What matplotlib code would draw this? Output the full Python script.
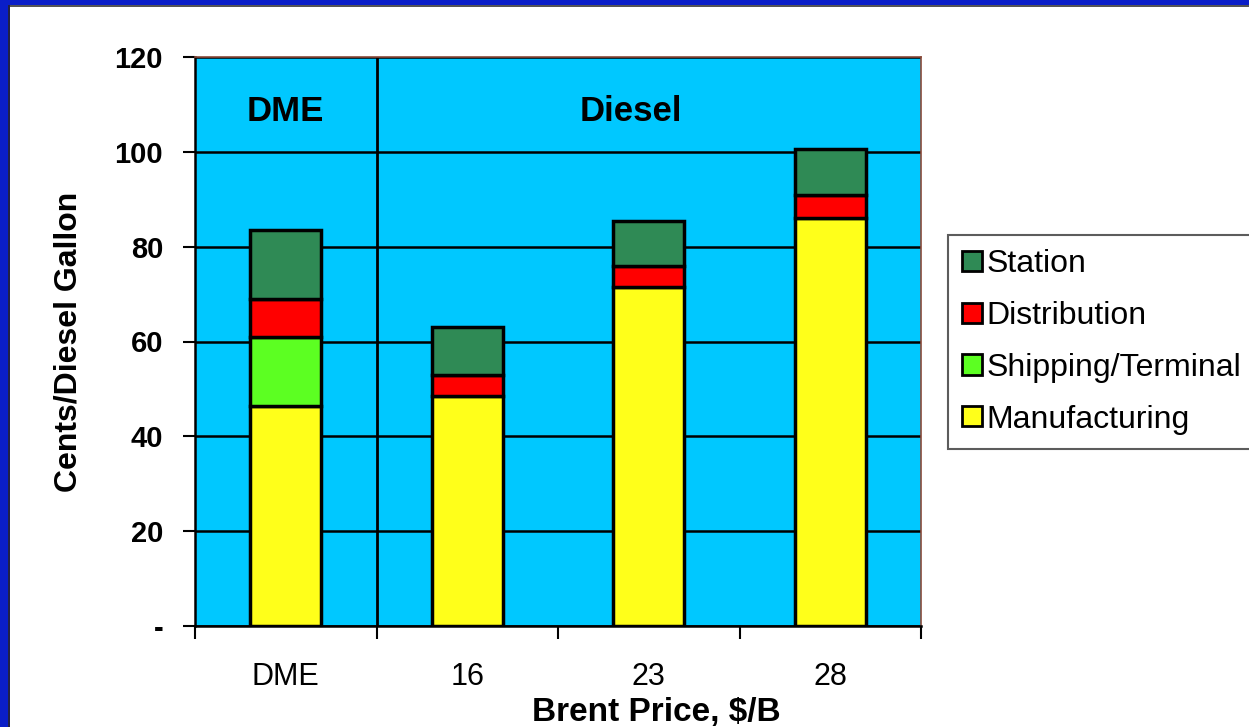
import numpy as np
import matplotlib
matplotlib.use("Agg")
import matplotlib.pyplot as plt
from matplotlib.patches import Rectangle

plt.rcParams['font.family'] = ['Liberation Sans', 'DejaVu Sans']

# cost breakdown, cents per diesel-equivalent gallon
categories = ['DME', '16', '23', '28']
manufacturing = [46.5, 48.5, 71.5, 86]
shipping = [14.5, 0, 0, 0]
distribution = [8, 4.5, 4.5, 5]
station = [14.5, 10, 9.5, 9.5]

yticks = [0, 20, 40, 60, 80, 100, 120]
ytick_labels = ['-', '20', '40', '60', '80', '100', '120']

fig = plt.figure(figsize=(12.49, 7.27), dpi=100)
fig.patch.set_facecolor('white')

# blue slide frame along the top and left edge
fig.patches.append(Rectangle((0, 1 - 5 / 727), 1, 5 / 727, transform=fig.transFigure,
                             facecolor='#0a1ec8', edgecolor='none', zorder=0))
fig.patches.append(Rectangle((0, 1 - 7 / 727), 1, 2 / 727, transform=fig.transFigure,
                             facecolor='#555555', edgecolor='none', zorder=0))
fig.patches.append(Rectangle((0, 0), 8 / 1249, 1, transform=fig.transFigure,
                             facecolor='#0a1ec8', edgecolor='none', zorder=0))
fig.patches.append(Rectangle((8 / 1249, 0), 2 / 1249, 1 - 5 / 727, transform=fig.transFigure,
                             facecolor='#222244', edgecolor='none', zorder=0))

ax = fig.add_axes([195 / 1249, 101 / 727, 726 / 1249, 569 / 727])
ax.set_facecolor('#00c8ff')

x = np.arange(len(categories))
w = 0.39
edge = dict(edgecolor='black', linewidth=2.5, zorder=3)

b0 = np.array(manufacturing)
b1 = b0 + np.array(shipping)
b2 = b1 + np.array(distribution)

ax.bar(x, manufacturing, w, color='#ffff1a', label='Manufacturing', **edge)
ship_x = [i for i in x if shipping[i] > 0]
ax.bar(ship_x, [shipping[i] for i in ship_x], w, bottom=[b0[i] for i in ship_x],
       color='#5cff22', label='Shipping/Terminal', **edge)
ax.bar(x, distribution, w, bottom=b1, color='#ff0000', label='Distribution', **edge)
ax.bar(x, station, w, bottom=b2, color='#2f8a55', label='Station', **edge)

ax.set_xlim(-0.5, 3.5)
ax.set_ylim(0, 120)

ax.set_yticks(yticks)
ax.set_yticklabels(ytick_labels, fontsize=21, fontweight='bold')
ax.yaxis.grid(True, color='black', linewidth=1.8, zorder=1)
ax.set_axisbelow(True)

# ticks at group boundaries, labels centered under each bar
ax.set_xticks(np.arange(-0.5, 4, 1))
ax.set_xticklabels([])
ax.set_xticks(x, minor=True)
ax.set_xticklabels(categories, minor=True, fontsize=22)
ax.tick_params(axis='x', which='minor', length=0, pad=26)
ax.tick_params(axis='x', which='major', length=9, width=1.5, direction='out')
ax.tick_params(axis='y', length=9, width=1.5, direction='out', pad=14)

ax.axvline(0.5, color='black', linewidth=2, zorder=2)

ax.text(0, 108.5, 'DME', ha='center', va='center', fontsize=25, fontweight='bold')
ax.text(1.9, 108.5, 'Diesel', ha='center', va='center', fontsize=25, fontweight='bold')

for s in ['left', 'bottom']:
    ax.spines[s].set_color('black')
    ax.spines[s].set_linewidth(1.8)
for s in ['top', 'right']:
    ax.spines[s].set_color('#8a4a3a')
    ax.spines[s].set_linewidth(1.2)

ax.set_ylabel('Cents/Diesel Gallon', fontsize=23, fontweight='bold', labelpad=22)
ax.set_xlabel('Brent Price, $/B', fontsize=24, fontweight='bold')
ax.xaxis.set_label_coords(0.635, -0.125)

handles, labels = ax.get_legend_handles_labels()
order = [3, 2, 1, 0]
leg = fig.legend([handles[i] for i in order], [labels[i] for i in order],
                 loc='upper left', bbox_to_anchor=(948 / 1249, 1 - 235 / 727),
                 fontsize=23, frameon=True, fancybox=False, shadow=False,
                 handlelength=0.6, handleheight=0.6, handletextpad=0.15,
                 labelspacing=0.68, borderpad=0.45, borderaxespad=0)
leg.get_frame().set_edgecolor('#333333')
leg.get_frame().set_linewidth(1.5)
for h in leg.legend_handles:
    h.set_linewidth(2)

fig.savefig('out.png', dpi=100)
